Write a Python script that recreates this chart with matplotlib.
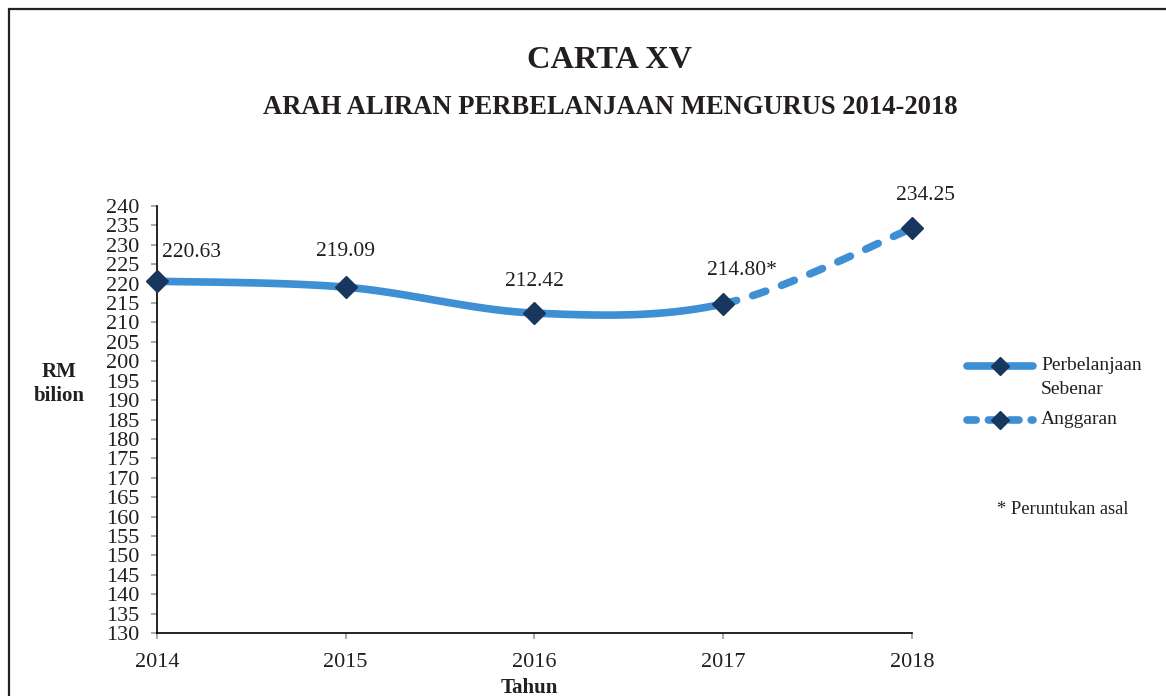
import numpy as np
import matplotlib
matplotlib.use("Agg")
import matplotlib.pyplot as plt
from matplotlib.lines import Line2D
from matplotlib.patches import Rectangle

# ── Data ──────────────────────────────────────────────────────────────────────
years = [2014, 2015, 2016, 2017, 2018]
sebenar = [220.63, 219.09, 212.42, 214.80]      # 2014-2017 (actual)
anggaran = [214.80, 234.25]                      # 2017-2018 (budget)
point_labels = ["220.63", "219.09", "212.42", "214.80*", "234.25"]
yticks = list(range(130, 241, 5))

LINE = "#3f8fd4"
MARK = "#17375e"
TXT = "#231f20"

plt.rcParams["font.family"] = ["Liberation Serif", "DejaVu Serif"]
plt.rcParams["text.color"] = TXT


def smooth(xs, ys, n=40):
    """Excel-like smoothed line: Catmull-Rom -> cubic Bezier per segment."""
    pts = np.column_stack([xs, ys]).astype(float)
    ext = np.vstack([pts[0], pts, pts[-1]])
    out = []
    for i in range(len(pts) - 1):
        p0, p1, p2, p3 = ext[i], ext[i + 1], ext[i + 2], ext[i + 3]
        c1 = p1 + (p2 - p0) / 6
        c2 = p2 - (p3 - p1) / 6
        t = np.linspace(0, 1, n)[:, None]
        seg = ((1 - t) ** 3) * p1 + 3 * ((1 - t) ** 2) * t * c1 \
            + 3 * (1 - t) * t ** 2 * c2 + t ** 3 * p2
        out.append(seg)
    return out


fig = plt.figure(figsize=(11.66, 6.96), dpi=100)
ax = fig.add_axes([0.1346, 0.0905, 0.7822 - 0.1346, 0.704 - 0.0905])

# ── Lines ─────────────────────────────────────────────────────────────────────
all_vals = sebenar + anggaran[1:]
segs = smooth(years, all_vals)
n_solid = len(sebenar) - 1
for k, seg in enumerate(segs):
    if k < n_solid:
        ax.plot(seg[:, 0], seg[:, 1], color=LINE, lw=5.5,
                solid_capstyle="round", zorder=2)
    else:
        ax.plot(seg[:, 0], seg[:, 1], color=LINE, lw=5.5,
                dashes=(1.8, 2.2), dash_capstyle="round", zorder=2)

ax.plot(years, all_vals, ls="none", marker="D", ms=11, color=MARK,
        clip_on=False, zorder=3)

# data labels
offsets = [(4, 14), (0, 19), (0, 16), (-12, 17.5), (10, 17)]
aligns = ["left", "center", "center", "left", "center"]
for x, y, lab, off, ha in zip(years, all_vals, point_labels, offsets, aligns):
    ax.annotate(lab, (x, y), xytext=off, textcoords="offset points",
                ha=ha, va="bottom", fontsize=15.5, color=TXT)

# ── Axes ──────────────────────────────────────────────────────────────────────
ax.set_xlim(2014, 2018)
ax.set_ylim(130, 240)
ax.set_xticks(years)
ax.set_yticks(yticks)
ax.tick_params(axis="both", direction="out", length=4.5, width=1.2,
               color="#9a9a9a", labelsize=16, labelcolor=TXT)
ax.tick_params(axis="y", pad=8)
ax.tick_params(axis="x", pad=10)
for s in ["top", "right"]:
    ax.spines[s].set_visible(False)
for s in ["left", "bottom"]:
    ax.spines[s].set_linewidth(1.2)
    ax.spines[s].set_color("black")

# titles and axis labels
W, H = 1166, 696
def fx(px): return px / W
def fy(py): return 1 - py / H

fig.text(0.523, fy(61), "CARTA XV", ha="center", va="center",
         fontsize=23.3, fontweight="bold")
fig.text(0.523, fy(108), "ARAH ALIRAN PERBELANJAAN MENGURUS 2014-2018",
         ha="center", va="center", fontsize=19.2, fontweight="bold")

fig.text(fx(59), fy(372), "RM", ha="center", va="center",
         fontsize=15, fontweight="bold")
fig.text(fx(59), fy(396), "bilion", ha="center", va="center",
         fontsize=15, fontweight="bold")
fig.text(0.454, fy(688), "Tahun", ha="center", va="center",
         fontsize=15, fontweight="bold")

# ── Legend (drawn by hand to match the stacked layout) ───────────────────────
fig.add_artist(Line2D([fx(967), fx(1033)], [fy(366), fy(366)], color=LINE,
                      lw=5.5, solid_capstyle="round"))
fig.add_artist(Line2D([fx(1000)], [fy(366)], marker="D", ms=9, color=MARK))
fig.text(fx(1041), fy(366), "Perbelanjaan", ha="left", va="center",
         fontsize=14)
fig.text(fx(1041), fy(389), "Sebenar", ha="left", va="center", fontsize=14)
fig.add_artist(Line2D([fx(967), fx(1033)], [fy(420), fy(420)], color=LINE,
                      lw=5.5, dashes=(1.2, 1.6), dash_capstyle="round"))
fig.add_artist(Line2D([fx(1000)], [fy(420)], marker="D", ms=9, color=MARK))
fig.text(fx(1041), fy(420), "Anggaran", ha="left", va="center", fontsize=14)
fig.text(fx(997), fy(510), "* Peruntukan asal", ha="left", va="center",
         fontsize=13.3)

# outer frame
fig.add_artist(Rectangle((fx(9), fy(760)), 1.2, fy(9) - fy(760),
                         transform=fig.transFigure, fill=False,
                         edgecolor="#222222", lw=1.6, clip_on=False))

fig.savefig("out.png", dpi=100)
